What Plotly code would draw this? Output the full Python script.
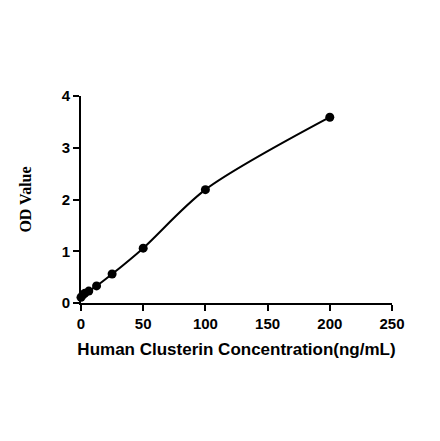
import plotly.graph_objects as go

# Standard curve data
conc = [0, 1.56, 3.125, 6.25, 12.5, 25, 50, 100, 200]
od = [0.11, 0.16, 0.19, 0.23, 0.33, 0.56, 1.06, 2.19, 3.59]

x_ticks = [0, 50, 100, 150, 200, 250]
y_ticks = [0, 1, 2, 3, 4]

fig = go.Figure()

# Fitted curve
fig.add_trace(go.Scatter(
    x=conc, y=od, mode='lines',
    line=dict(color='black', width=2, shape='spline', smoothing=0.85),
    hoverinfo='skip', cliponaxis=False
))

# Measured points
fig.add_trace(go.Scatter(
    x=conc, y=od, mode='markers',
    marker=dict(color='black', size=9),
    cliponaxis=False
))

axis_common = dict(
    showline=True, linecolor='black', linewidth=2,
    ticks='outside', ticklen=6, tickwidth=2, tickcolor='black',
    showgrid=False, zeroline=False,
    tickfont=dict(family='Arial, Liberation Sans', size=15, color='black', weight='bold'),
)

fig.update_layout(
    width=440, height=441,
    margin=dict(l=73, r=56, t=88, b=146),
    plot_bgcolor='white', paper_bgcolor='white',
    showlegend=False,
    xaxis=dict(
        range=[0, 250], tickvals=x_ticks,
        title=dict(text='Human Clusterin Concentration(ng/mL)', standoff=12,
                   font=dict(family='Arial, Liberation Sans', size=17, color='black', weight='bold')),
        **axis_common
    ),
    yaxis=dict(
        range=[0, 4], tickvals=y_ticks,
        title=dict(text='OD Value', standoff=26,
                   font=dict(family='Times New Roman, Liberation Serif', size=16, color='black', weight='bold')),
        **axis_common
    ),
)

fig.write_html("out.html")
